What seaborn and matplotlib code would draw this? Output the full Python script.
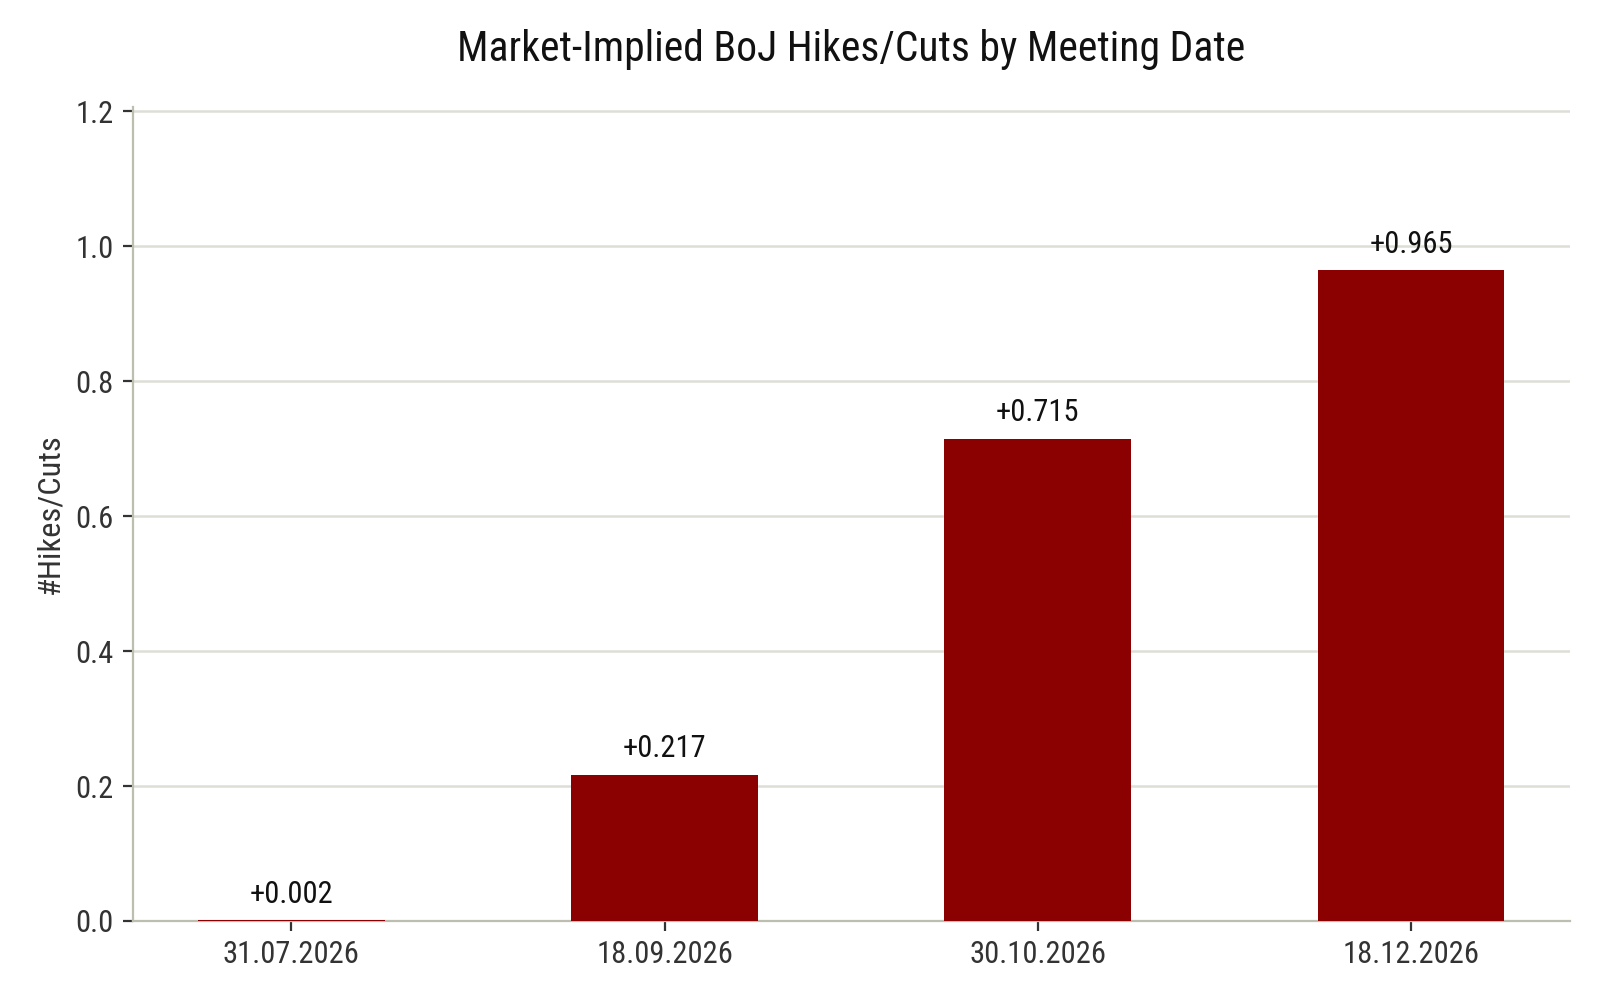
import matplotlib
matplotlib.use("Agg")
import matplotlib.pyplot as plt
from matplotlib import font_manager
import seaborn as sns
import pandas as pd

dates = ["31.07.2026", "18.09.2026", "30.10.2026", "18.12.2026"]
hikes = [0.002, 0.217, 0.715, 0.965]

sns.set_theme(style="white")
names = {f.name for f in font_manager.fontManager.ttflist}
fam = "Roboto Condensed" if "Roboto Condensed" in names else "Roboto"
plt.rcParams["font.family"] = [fam, "DejaVu Sans"]

df = pd.DataFrame({"date": dates, "value": hikes})

fig, ax = plt.subplots(figsize=(8, 5), dpi=200)
fig.subplots_adjust(left=0.083, right=0.981, bottom=0.079, top=0.893)

sns.barplot(data=df, x="date", y="value", color="#8b0000", width=0.5,
            saturation=1, ax=ax, zorder=3, linewidth=0, edgecolor="none")
ax.set_xlim(-0.425, 3.425)
ax.set_ylim(0, max(hikes) * 1.25)
ax.set_yticks([0, 0.2, 0.4, 0.6, 0.8, 1.0, 1.2])
ax.set_yticklabels([f"{v:.1f}" for v in [0, 0.2, 0.4, 0.6, 0.8, 1.0, 1.2]])

ax.bar_label(ax.containers[0], labels=[f"+{v:.3f}" for v in hikes],
             padding=4, fontsize=11, color="#111111")

ax.set_title("Market-Implied BoJ Hikes/Cuts by Meeting Date", fontsize=15,
             pad=16.5, color="#111111")
ax.set_xlabel("")
ax.set_ylabel("#Hikes/Cuts", fontsize=11.7, color="#333333")

ax.yaxis.grid(True, color="#deded6", linewidth=0.9, zorder=0)
ax.xaxis.grid(False)
for s in ["top", "right"]:
    ax.spines[s].set_visible(False)
for s in ["left", "bottom"]:
    ax.spines[s].set_color("#bdbdb0")
    ax.spines[s].set_linewidth(0.8)
ax.tick_params(axis="both", which="major", direction="out", length=3.5,
               width=0.8, color="#333333", labelsize=11, labelcolor="#333333",
               bottom=True, left=True)

fig.savefig("out.png", dpi=200)
